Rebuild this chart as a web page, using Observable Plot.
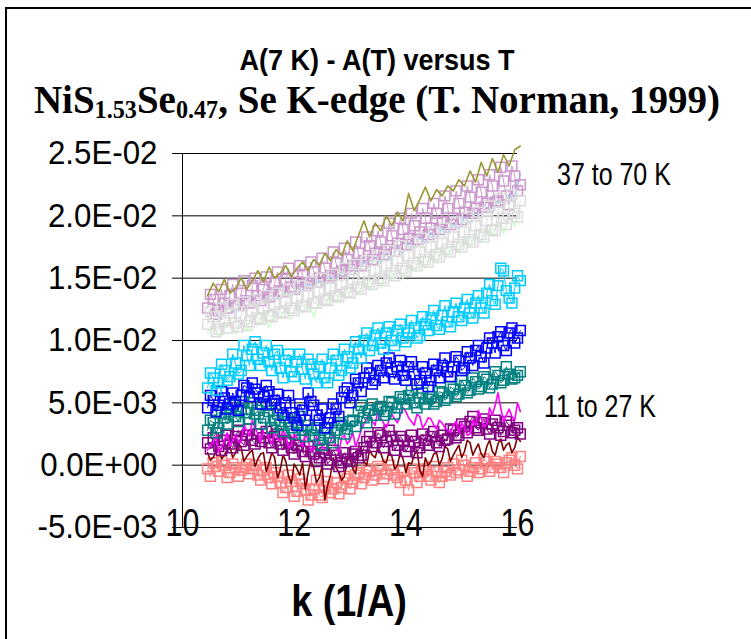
<!DOCTYPE html>
<html><head><meta charset="utf-8">
<script src="https://cdn.jsdelivr.net/npm/d3@7"></script>
<script src="https://cdn.jsdelivr.net/npm/@observablehq/plot@0.6"></script>
<style>
html,body{margin:0;padding:0;background:#fff;}
#wrap{position:relative;width:751px;height:639px;overflow:hidden;background:#fff;}
#chart{position:absolute;left:0;top:0;}
#frame{position:absolute;left:5px;top:7px;width:900px;height:800px;border-left:2px solid #000;border-top:2px solid #000;}
.t{position:absolute;white-space:nowrap;line-height:1;color:#000;}
.sans{font-family:"Liberation Sans",Arial,sans-serif;}
.serif{font-family:"Liberation Serif","Times New Roman",serif;}
.sub{font-size:0.62em;position:relative;top:0.22em;}
</style></head><body>
<div id="wrap">
<div id="chart"></div>
<div id="frame"></div>
<div class="t sans" id="title" style="font-weight:700;font-size:30px;left:377px;top:45px;transform:translateX(-50%) scaleX(0.9);">A(7 K) - A(T) versus T</div>
<div class="t serif" id="subtitle" style="font-weight:700;font-size:39px;left:377px;top:80px;transform:translateX(-50%);">NiS<span class="sub">1.53</span>Se<span class="sub">0.47</span>, Se K-edge (T. Norman, 1999)</div>
<div class="t sans" id="xlabel" style="font-weight:700;font-size:44px;left:349px;top:579px;transform:translateX(-50%) scaleX(0.86);">k (1/A)</div>
<div class="t sans" id="ann1" style="font-size:32px;left:557px;top:158px;transform-origin:0 0;transform:scaleX(0.78);">37 to 70 K</div>
<div class="t sans" id="ann2" style="font-size:32px;left:544px;top:390px;transform-origin:0 0;transform:scaleX(0.78);">11 to 27 K</div>
</div>
<script>
// k values (1/A): main points and in-between points
const k = [10.45,10.55,10.65,10.75,10.85,10.95,11.05,11.15,11.25,11.35,
11.45,11.55,11.65,11.75,11.85,11.95,12.05,12.15,12.25,12.35,
12.45,12.55,12.65,12.75,12.85,12.95,13.05,13.15,13.25,13.35,
13.45,13.55,13.65,13.75,13.85,13.95,14.05,14.15,14.25,14.35,
14.45,14.55,14.65,14.75,14.85,14.95,15.05,15.15,15.25,15.35,
15.45,15.55,15.65,15.75,15.85,15.95,16.05];
const kMid = [10.50,10.60,10.70,10.80,10.90,11.00,11.10,11.20,11.30,11.40,
11.50,11.60,11.70,11.80,11.90,12.00,12.10,12.20,12.30,12.40,
12.50,12.60,12.70,12.80,12.90,13.00,13.10,13.20,13.30,13.40,
13.50,13.60,13.70,13.80,13.90,14.00,14.10,14.20,14.30,14.40,
14.50,14.60,14.70,14.80,14.90,15.00,15.10,15.20,15.30,15.40,
15.50,15.60,15.70,15.80,15.90,16.00];

// series values in units of 1E-03 (at k, and at kMid where read)
const salmon = [-0.3,0.2,-0.5,0.0,-0.6,-0.2,-0.4,0.1,-0.3,-0.8,
-0.4,-1.0,-0.6,-1.4,-1.8,-1.3,-2.1,-1.5,-2.8,-1.9,
-2.4,-1.7,-2.2,-1.4,-1.8,-1.1,-1.4,-0.6,-1.0,-0.5,
-0.8,-0.3,-0.7,-0.4,-1.0,-0.5,-2.0,-0.6,-0.9,-0.3,
-1.2,-0.5,-0.9,-0.2,0.1,-0.4,0.0,-0.5,0.2,-0.3,
0.3,-0.2,0.1,-0.6,0.4,0.0,0.7];
const salmonMid = [-0.9,-0.1,0.3,-1.0,0.1,-0.9,-0.2,-0.7,0.0,-1.2,
-0.2,-1.5,-0.9,-2.2,-0.8,-2.5,-1.1,-2.0,-2.4,-1.2,
-2.6,-1.3,-1.9,-2.3,-0.9,-1.9,-0.8,-1.5,-0.3,-1.2,
-0.1,-1.1,0.0,-0.8,-1.4,-1.2,-0.3,-1.4,-0.5,-0.9,
-0.1,-1.4,-0.5,-0.8,-0.6,0.4,-0.9,-0.2,-0.6,0.5,
-0.5,0.3,-0.2,0.2,0.6,-0.3];
const darkRed = [1.0,0.6,1.3,0.8,1.5,1.0,1.4,0.7,1.2,0.5,
1.0,0.2,0.6,-0.4,0.3,-1.5,-0.3,0.2,-0.6,-0.2,
-1.0,-2.8,-0.8,-0.2,-1.2,0.4,-0.3,0.8,0.3,1.2,
0.6,1.0,0.2,0.7,0.0,0.5,0.2,0.8,-0.4,0.6,
0.3,1.0,0.5,1.3,0.8,1.6,1.1,1.8,1.3,0.9,
1.5,1.1,1.7,1.2,1.8,1.4,1.9];
const darkRedMid = [0.4,1.1,0.5,1.2,0.6,1.8,0.3,1.0,-0.1,0.9,
-0.5,1.0,-1.0,0.8,-0.9,0.1,-0.8,-1.9,0.4,-1.4,
-0.1,-1.6,0.6,-0.6,-0.9,0.6,-0.7,1.4,0.0,0.8,
1.4,0.3,1.1,-0.3,1.0,-0.6,0.1,1.2,-0.9,0.0,
0.9,0.0,1.5,0.3,1.2,0.6,2.0,0.8,1.7,0.6,
2.0,0.8,2.1,1.6,1.0,2.3];
const purple = [1.8,2.2,1.5,2.0,1.7,2.3,1.9,2.4,2.0,2.5,
2.2,1.8,2.3,1.7,2.0,1.4,1.6,1.1,1.5,0.9,
0.6,1.0,0.4,0.8,0.2,0.5,0.9,0.6,1.4,2.3,
1.8,2.4,1.9,2.3,1.6,2.0,1.5,1.9,1.4,2.0,
2.3,1.8,2.4,2.1,2.8,2.4,3.1,3.5,3.0,3.4,
2.9,3.3,3.0,2.7,3.2,2.8,2.5];
const purpleMid = [1.3,2.6,1.2,2.4,1.4,2.8,1.6,2.9,1.7,1.9,
2.7,1.4,2.5,1.2,1.8,0.9,2.0,0.7,1.1,0.3,
1.3,0.1,1.2,-0.1,1.0,0.3,1.1,0.8,1.9,1.5,
2.6,1.4,2.8,1.2,2.3,1.1,2.4,1.0,2.5,1.6,
2.7,1.5,2.0,2.9,2.2,3.3,2.6,3.9,2.8,3.7,
2.5,3.6,2.4,3.5,2.6,3.0];
const magenta = [1.2,1.8,1.0,2.0,1.5,2.4,1.8,2.8,3.6,2.5,
2.9,2.1,2.6,1.9,2.4,1.6,2.2,1.5,2.0,1.3,
1.8,1.2,1.9,1.4,2.2,1.7,2.6,2.1,3.3,4.2,
3.2,3.8,3.0,4.1,3.4,4.6,3.8,3.2,3.9,3.3,
3.7,2.9,3.4,2.8,3.2,2.6,3.0,2.5,3.2,3.8,
3.3,4.0,5.8,3.5,4.5,3.6,4.3];
const magentaMid = [1.6,2.3,1.4,2.6,2.0,1.9,3.2,2.3,3.0,1.8,
3.1,1.7,2.2,2.8,1.4,2.5,1.9,2.6,1.1,2.3,
1.5,1.6,2.5,1.0,2.4,2.0,1.5,2.8,3.8,3.5,
4.4,3.4,3.6,3.7,4.0,4.3,3.5,4.1,3.0,3.8,
3.2,3.6,3.0,2.6,3.5,3.4,2.4,3.6,4.4,3.1,
4.6,4.8,4.6,4.0,3.9,5.0];
const teal = [2.8,3.4,3.0,3.8,4.3,3.9,4.5,4.2,5.0,4.4,
3.8,4.3,3.6,3.2,3.8,3.0,3.4,2.8,3.2,2.4,
2.0,2.6,2.2,2.8,3.2,2.9,3.6,4.3,3.8,4.4,
4.0,4.7,4.3,5.0,4.6,5.3,5.6,5.0,5.4,4.9,
5.5,5.1,5.8,5.4,6.1,5.7,6.4,6.0,6.7,6.3,
6.9,6.5,7.2,6.8,7.3,7.0,7.5];
const tealMid = [3.6,2.6,4.2,3.3,4.8,3.5,5.1,3.7,4.1,3.3,
4.8,3.0,4.1,2.7,3.5,2.5,3.9,2.3,2.8,3.0,
1.6,2.9,1.8,3.4,2.5,3.5,3.1,4.8,3.4,4.9,
4.5,4.0,5.1,4.1,5.5,4.9,6.0,4.6,5.8,5.3,
4.9,5.9,5.2,6.3,5.5,6.8,5.8,7.0,6.1,7.1,
6.2,7.5,6.6,7.9,6.9,7.2];
const blue = [4.6,5.2,4.8,5.4,4.9,5.1,5.6,6.2,6.6,5.8,
5.5,5.9,5.2,4.6,5.0,4.2,3.2,4.4,5.8,4.8,
3.6,3.0,3.8,4.5,5.4,6.2,5.6,6.6,7.0,7.4,
6.8,7.6,8.2,7.5,7.9,7.2,7.9,7.3,6.8,7.4,
6.8,7.6,8.0,7.5,7.9,8.4,7.8,8.6,9.2,8.7,
9.4,9.8,10.3,9.6,10.6,9.8,10.8];
const blueMid = [5.6,4.3,5.9,4.5,5.8,4.4,6.4,5.5,6.1,4.9,
6.4,4.9,5.7,4.0,5.6,3.8,4.9,3.6,5.1,4.0,
4.5,3.4,4.9,3.9,5.9,5.0,6.9,5.9,7.8,6.5,
8.0,7.0,8.6,6.9,8.4,6.8,8.3,6.5,7.9,6.3,
8.1,7.0,8.6,7.1,8.7,7.6,9.1,8.0,9.6,8.2,
10.2,9.0,10.7,9.2,11.0,10.2];
const cyan = [6.2,7.0,6.6,7.6,7.1,8.2,7.6,8.8,9.3,8.5,
9.0,8.3,8.9,7.8,8.4,7.5,8.3,7.7,8.5,7.3,
7.9,7.0,7.8,8.4,7.6,8.7,8.2,9.3,10.0,9.2,
10.4,9.8,10.6,10.0,10.8,10.2,10.6,11.0,10.4,11.3,
11.8,11.2,12.0,11.5,12.3,11.9,12.6,12.2,13.0,12.6,
13.8,13.2,14.4,15.6,13.4,14.2,14.8];
const cyanMid = [7.4,6.0,8.1,6.8,8.9,7.3,9.6,8.0,9.9,8.0,
9.6,7.6,9.2,7.0,8.9,7.1,8.9,6.9,8.1,6.6,
8.5,6.6,8.9,7.2,9.3,7.8,9.9,8.6,10.6,9.6,
11.0,9.3,11.1,9.6,11.3,9.9,11.6,10.2,11.9,10.8,
12.4,10.9,12.8,11.1,13.0,11.6,13.3,11.8,13.6,12.2,
14.5,12.9,15.8,14.0,13.0,15.2];
const lightGreen = [10.6,11.4,10.2,11.0,11.6,10.5,11.5,10.8,11.9,11.2,
12.1,11.0,12.3,11.8,12.6,11.7,12.9,12.2,13.1,11.9,
13.2,12.8,13.7,13.0,14.0,13.4,14.4,13.7,14.8,14.0,
15.1,14.3,15.4,14.8,15.9,15.0,16.2,15.6,16.6,15.8,
17.0,16.2,17.4,16.8,17.8,17.0,18.3,17.6,18.7,17.9,
19.1,18.4,19.5,18.6,20.0,19.2,20.8];
const lightBlue = [12.0,12.5,11.8,12.6,12.9,12.2,13.0,12.5,13.4,12.8,
13.5,12.9,13.8,13.3,14.1,13.5,14.2,14.0,14.5,14.3,
14.8,14.4,15.1,14.8,15.5,15.1,15.8,15.5,16.3,15.9,
16.7,16.2,17.0,16.5,17.5,17.0,17.8,17.4,18.3,17.8,
18.6,18.2,19.0,18.6,19.4,19.0,19.9,19.4,20.3,19.8,
20.7,20.2,21.2,20.7,21.7,21.5,23.4];
const orchid = [12.6,13.3,12.4,13.0,13.6,12.9,13.8,13.2,14.4,13.6,
14.1,13.5,14.6,14.0,14.9,14.3,14.7,15.3,14.6,15.5,
15.0,15.8,15.2,16.2,15.6,16.5,16.0,17.0,16.4,17.6,
17.0,17.9,17.3,18.4,17.8,18.9,18.2,19.2,18.7,19.8,
19.0,20.2,19.5,20.6,19.8,21.0,20.3,21.5,20.6,21.9,
21.0,22.4,21.2,22.8,20.9,23.2,22.5];
const orchidMid = [13.7,12.1,14.1,12.6,14.5,12.8,14.8,13.0,15.0,13.2,
15.1,13.7,15.5,13.9,15.8,14.1,16.0,14.4,16.3,14.7,
16.6,15.0,17.1,15.3,17.4,15.7,17.9,16.0,18.3,16.5,
18.8,16.9,19.4,17.2,19.8,17.7,20.2,18.1,20.6,18.5,
21.0,18.9,21.6,19.3,22.0,19.7,22.4,20.2,22.9,20.7,
23.3,21.1,23.9,21.6,24.0,22.0];
const grey = [11.3,11.9,10.9,11.6,12.2,11.4,12.0,11.2,12.4,11.8,
12.6,12.0,12.9,12.3,13.2,12.6,13.4,12.8,13.6,13.0,
13.9,13.3,14.2,13.6,14.5,13.9,14.9,14.3,15.3,14.7,
15.6,15.0,16.0,15.4,16.4,15.8,16.8,16.2,17.1,16.5,
17.5,16.9,17.8,17.3,18.3,17.7,18.7,18.1,19.2,18.5,
19.6,18.9,20.3,19.8,20.8,20.2,21.2];
const greyMid = [12.3,10.7,12.6,11.0,12.9,11.1,13.1,11.5,13.3,11.7,
13.6,11.9,13.8,12.2,14.1,12.4,14.4,12.7,14.7,13.0,
15.0,13.2,15.3,13.5,15.8,13.8,16.1,14.1,16.4,14.5,
16.8,14.8,17.2,15.2,17.6,15.6,17.9,16.0,18.2,16.3,
18.7,16.7,19.0,17.1,19.5,17.5,19.9,17.9,20.3,18.3,
20.8,18.8,21.4,19.3,21.7,19.9];
const olive = [13.6,14.6,13.9,14.9,13.8,14.2,15.0,14.1,14.8,15.6,
14.7,15.9,15.0,15.4,16.0,15.1,15.8,16.3,15.6,16.5,
16.0,17.0,16.4,17.3,16.8,18.0,17.2,18.4,19.6,18.3,
19.4,18.8,20.0,19.2,20.3,19.6,21.8,20.4,21.3,22.3,
21.2,22.1,21.6,22.4,22.0,22.9,22.4,23.6,22.7,24.3,
23.2,24.6,23.5,24.9,24.0,25.3,25.6];

const yTicks = [-0.005, 0, 0.005, 0.01, 0.015, 0.02, 0.025];
const yTickLabels = ["-5.0E-03","0.0E+00","5.0E-03","1.0E-02","1.5E-02","2.0E-02","2.5E-02"];
const xTicks = [10, 12, 14, 16];
const xTickLabels = ["10", "12", "14", "16"];

// drawing order, colour, markers
const series = [
  {values: salmon, mid: salmonMid, color: "#FF8080", marker: true},
  {values: darkRed, mid: darkRedMid, color: "#800000", marker: false},
  {values: purple, mid: purpleMid, color: "#800080", marker: true},
  {values: magenta, mid: magentaMid, color: "#FF00FF", marker: false},
  {values: teal, mid: tealMid, color: "#008080", marker: true},
  {values: blue, mid: blueMid, color: "#0000FF", marker: true},
  {values: cyan, mid: cyanMid, color: "#00CCFF", marker: true},
  {values: lightGreen, mid: null, color: "#CCFFCC", marker: false},
  {values: lightBlue, mid: null, color: "#99CCFF", marker: false},
  {values: orchid, mid: orchidMid, color: "#CC99CC", marker: true},
  {values: grey, mid: greyMid, color: "#DDDDDD", marker: true},
  {values: olive, mid: null, color: "#999933", marker: false}
];

const seriesMarks = [];
for (const s of series) {
  let rows = k.map((x, i) => ({k: x, v: s.values[i] * 1e-3}));
  if (s.mid) rows = rows.concat(kMid.map((x, i) => ({k: x, v: s.mid[i] * 1e-3}))).sort((a, b) => a.k - b.k);
  seriesMarks.push(Plot.line(rows, {x: "k", y: "v", stroke: s.color, strokeWidth: s.marker ? 1 : 1.6}));
  if (s.marker) seriesMarks.push(Plot.dot(rows, {x: "k", y: "v", symbol: "square", r: 5.6, stroke: s.color, fill: "none", strokeWidth: 1.5}));
}

const chart = Plot.plot({
  width: 751, height: 639,
  marginLeft: 182, marginRight: 234, marginTop: 153, marginBottom: 112,
  style: {background: "transparent", fontFamily: "'Liberation Sans', Arial, sans-serif", color: "#000", overflow: "visible"},
  x: {domain: [10, 16]},
  y: {domain: [-0.005, 0.025]},
  marks: [
    Plot.ruleY(yTicks, {stroke: "#000", strokeWidth: 1, strokeOpacity: 1}),
    ...seriesMarks,
    Plot.ruleX([10], {y1: -0.005, y2: 0.025, stroke: "#000", strokeOpacity: 1}),
    Plot.axisY({ticks: yTicks, tickSize: 10, tickPadding: 15, tickFormat: d => yTickLabels[yTicks.indexOf(d)], fontSize: 34, label: null, strokeOpacity: 1}),
    Plot.axisX({ticks: xTicks, tickSize: 0, tickPadding: -18, tickFormat: d => xTickLabels[xTicks.indexOf(d)], fontSize: 38, label: null})
  ]
});
document.getElementById("chart").appendChild(chart);

function squeeze(selector, s) {
  chart.querySelectorAll(selector).forEach(el => {
    const t = el.getAttribute("transform") || "";
    el.setAttribute("transform", `${t} scale(${s},1)`);
  });
}
squeeze('g[aria-label="x-axis tick label"] text', 0.8);
squeeze('g[aria-label="y-axis tick label"] text', 0.92);
</script>
</body></html>
